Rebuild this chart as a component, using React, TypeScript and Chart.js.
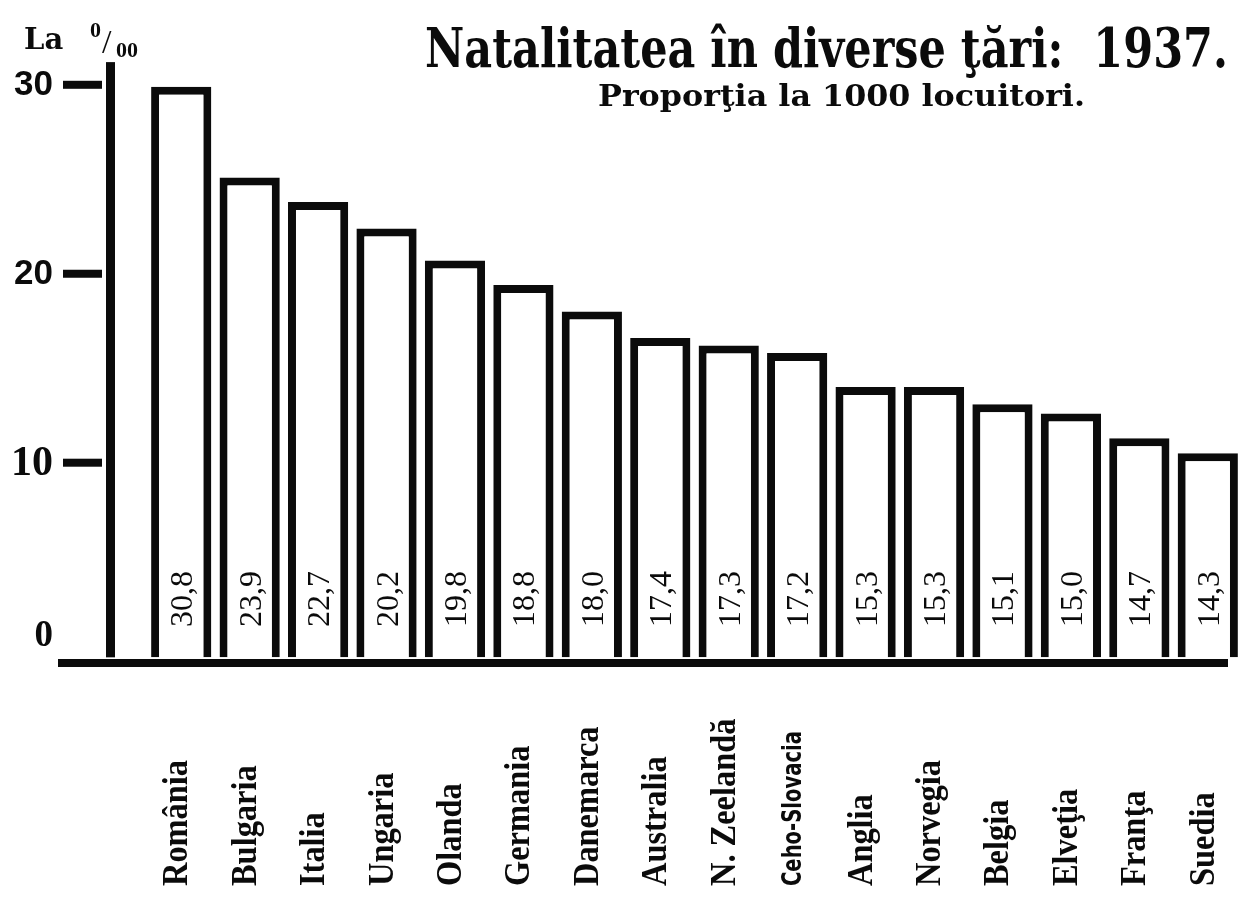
import React, { useEffect, useRef } from "react";
import { Chart, registerables } from "chart.js";

Chart.register(...registerables);

// ---- data ----
const countries = [
  "România", "Bulgaria", "Italia", "Ungaria", "Olanda", "Germania", "Danemarca",
  "Australia", "N. Zeelandă", "Ceho-Slovacia", "Anglia", "Norvegia", "Belgia",
  "Elveţia", "Franţa", "Suedia",
];
// birth rate per 1000 inhabitants, as printed inside the bars
const printedRates = [30.8, 23.9, 22.7, 20.2, 19.8, 18.8, 18.0, 17.4, 17.3, 17.2, 15.3, 15.3, 15.1, 15.0, 14.7, 14.3];
// bar heights as drawn against the left axis of the original
const drawnHeights = [29.9, 25.1, 23.8, 22.4, 20.7, 19.4, 18.0, 16.6, 16.2, 15.8, 14.0, 14.0, 13.1, 12.6, 11.3, 10.5];
const yTickValues = [0, 10, 20, 30];
const yTickLabels = ["0", "10", "20", "30"];

const INK = "#0b0b0b";

function fmt(v: number) {
  return v.toFixed(1).replace(".", ",");
}

function drawScaled(ctx: CanvasRenderingContext2D, text: string, x: number, y: number, width: number, font: string) {
  ctx.font = font;
  const w = ctx.measureText(text).width;
  ctx.save();
  ctx.translate(x, y);
  ctx.scale(width / w, 1);
  ctx.textAlign = "left";
  ctx.textBaseline = "alphabetic";
  ctx.fillText(text, 0, 0);
  ctx.restore();
}

const decorPlugin = {
  id: "decor",
  afterDraw(chart: any) {
    const ctx: CanvasRenderingContext2D = chart.ctx;
    const xs = chart.scales.x;
    const ys = chart.scales.y;
    ctx.save();
    ctx.fillStyle = INK;

    // vertical axis bar
    const axTop = ys.getPixelForValue(31.2);
    const axBot = ys.getPixelForValue(-0.3);
    ctx.fillRect(106, axTop, 9, axBot - axTop);

    // horizontal axis bar
    const base = ys.getPixelForValue(-0.6);
    ctx.fillRect(58, base - 4, 1170, 8);

    // tick marks + labels
    yTickValues.forEach((v, i) => {
      const py = ys.getPixelForValue(v);
      if (v > 0) ctx.fillRect(63, py - 4, 39, 8);
      let font = "bold 35px 'Liberation Sans', Arial, sans-serif";
      let dy = 0;
      if (v === 10) font = "bold 42px 'Liberation Serif', serif";
      if (v === 0) {
        font = "bold 37px 'Liberation Serif', serif";
        dy = -16;
      }
      ctx.font = font;
      ctx.textAlign = "right";
      ctx.textBaseline = "middle";
      ctx.fillText(yTickLabels[i], 53, py + dy + 1);
    });

    // "La ‰"
    ctx.textAlign = "left";
    ctx.textBaseline = "alphabetic";
    ctx.font = "bold 29px 'DejaVu Serif', serif";
    ctx.fillText("La", 24, 49);
    ctx.font = "bold 22px 'Liberation Serif', serif";
    ctx.fillText("0", 90, 37);
    ctx.font = "34px 'Liberation Serif', serif";
    ctx.fillText("/", 102, 53);
    ctx.font = "bold 22px 'Liberation Serif', serif";
    ctx.fillText("00", 116, 57);

    // title and subtitle
    drawScaled(ctx, "Natalitatea în diverse ţări:  1937.", 425, 67, 803, "bold 54px 'DejaVu Serif', serif");
    drawScaled(ctx, "Proporţia la 1000 locuitori.", 598, 106, 487, "bold 30px 'DejaVu Serif', serif");

    // values inside bars + country names under the axis
    countries.forEach((name, i) => {
      const cx = xs.getPixelForValue(i);
      // printed value
      ctx.save();
      ctx.translate(cx + 11, 627);
      ctx.rotate(-Math.PI / 2);
      ctx.font = "32px 'Liberation Serif', serif";
      ctx.textAlign = "left";
      ctx.textBaseline = "alphabetic";
      ctx.fillText(fmt(printedRates[i]), 0, 0);
      ctx.restore();

      // country name
      ctx.save();
      if (name === "Ceho-Slovacia") {
        ctx.translate(cx + 4, 886);
        ctx.rotate(-Math.PI / 2);
        ctx.font = "bold 26px 'Liberation Sans Narrow', 'DejaVu Sans Condensed', 'DejaVu Sans', sans-serif";
        const w = ctx.measureText(name).width;
        ctx.scale(155 / w, 1);
      } else {
        ctx.translate(cx + 6, 886);
        ctx.rotate(-Math.PI / 2);
        ctx.font = "bold 36px 'Liberation Serif', serif";
        ctx.scale(0.9, 1);
      }
      ctx.textAlign = "left";
      ctx.textBaseline = "alphabetic";
      ctx.fillText(name, 0, 0);
      ctx.restore();
    });

    ctx.restore();
  },
};

export default function App() {
  const ref = useRef<HTMLCanvasElement | null>(null);

  useEffect(() => {
    if (!ref.current) return;
    const chart = new Chart(ref.current, {
      type: "bar",
      data: {
        labels: countries,
        datasets: [
          {
            data: drawnHeights,
            backgroundColor: "#ffffff",
            borderColor: INK,
            borderWidth: { top: 8, left: 8, right: 8, bottom: 0 },
            borderSkipped: false,
            base: -0.3,
            barPercentage: 0.88,
            categoryPercentage: 1,
          } as any,
        ],
      },
      options: {
        animation: false,
        responsive: false,
        maintainAspectRatio: false,
        devicePixelRatio: 1,
        layout: { padding: { left: 147, right: 1, top: 47, bottom: 234 } },
        scales: {
          x: { display: false, offset: true },
          y: { display: false, min: -0.6, max: 32 },
        },
        plugins: {
          legend: { display: false },
          tooltip: { enabled: false },
          title: { display: false },
        },
      },
      plugins: [decorPlugin],
    });
    return () => chart.destroy();
  }, []);

  return (
    <div style={{ position: "fixed", left: 0, top: 0, width: 1243, height: 897, background: "#fff" }}>
      <canvas ref={ref} width={1243} height={897} style={{ display: "block" }} />
    </div>
  );
}
